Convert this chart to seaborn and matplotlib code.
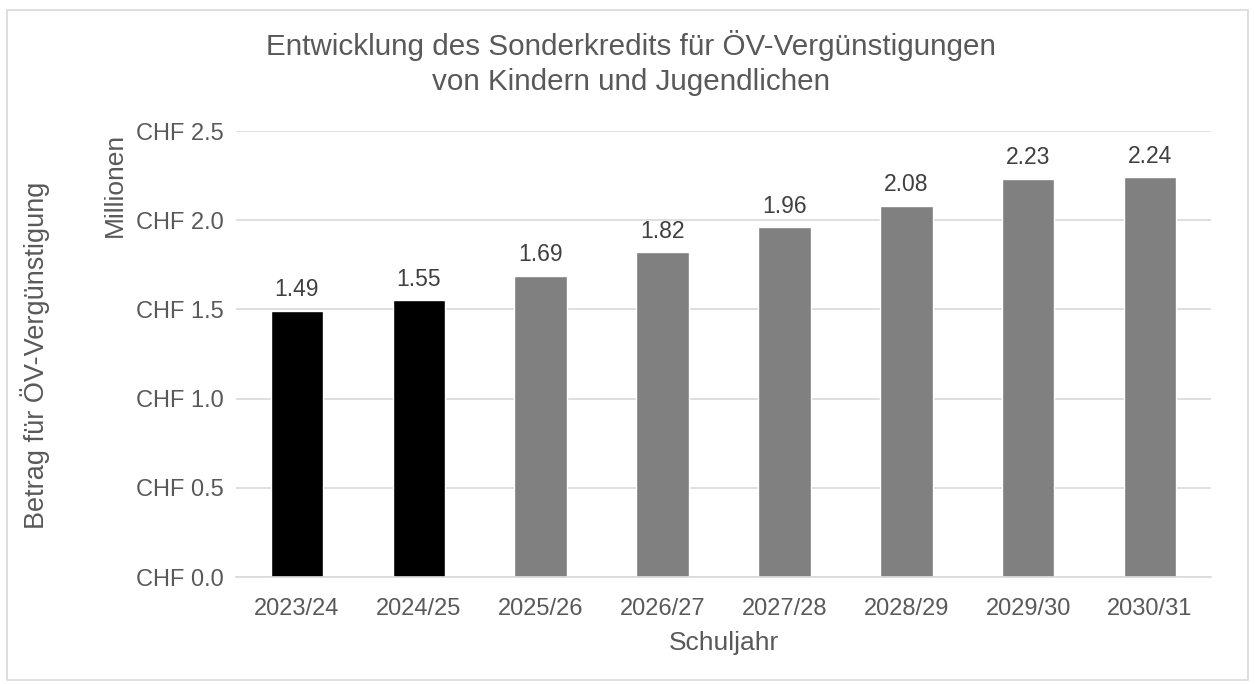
import numpy as np
import pandas as pd
import matplotlib
matplotlib.use("Agg")
import matplotlib.pyplot as plt
import seaborn as sns
from matplotlib.patches import Rectangle

# Daten
schuljahre = ["2023/24", "2024/25", "2025/26", "2026/27", "2027/28", "2028/29", "2029/30", "2030/31"]
betrag_mio = [1.49, 1.55, 1.69, 1.82, 1.96, 2.08, 2.23, 2.24]
farben = ["#000000", "#000000", "#808080", "#808080", "#808080", "#808080", "#808080", "#808080"]
yticks = [0.0, 0.5, 1.0, 1.5, 2.0, 2.5]

df = pd.DataFrame({"Schuljahr": schuljahre, "Betrag": betrag_mio})

sns.set_theme(style="white")
plt.rcParams["font.family"] = ["Liberation Sans", "DejaVu Sans"]

fig = plt.figure(figsize=(12.55, 6.84), dpi=100)
ax = fig.add_axes([236 / 1255, 1 - 577 / 684, (1211 - 236) / 1255, (577 - 131) / 684])

sns.barplot(data=df, x="Schuljahr", y="Betrag", hue="Schuljahr", palette=farben,
            legend=False, width=0.43, saturation=1, ax=ax)

for i, v in enumerate(betrag_mio):
    ax.text(i, v + 0.055, f"{v:.2f}", ha="center", va="bottom", fontsize=16.5, color="#404040")

ax.set_ylim(0, 2.5)
ax.set_yticks(yticks)
ax.set_yticklabels([f"CHF {t:.1f}" for t in yticks])
ax.yaxis.grid(True, color="#D9D9D9", linewidth=1.2)
ax.set_axisbelow(True)
for s in ["top", "right", "left"]:
    ax.spines[s].set_visible(False)
ax.spines["bottom"].set_color("#D9D9D9")
ax.spines["bottom"].set_linewidth(1.2)
ax.tick_params(axis="both", length=0, labelsize=17, colors="#595959")
ax.tick_params(axis="y", pad=9)
ax.tick_params(axis="x", pad=15)

ax.set_xlabel("Schuljahr", fontsize=19, color="#595959", labelpad=8)
ax.set_ylabel("")
fig.text(35 / 1255, 1 - 355 / 684, "Betrag für ÖV-Vergünstigung", rotation=90,
         ha="center", va="center", fontsize=19.5, color="#595959")
fig.text(115 / 1255, 1 - 185 / 684, "Millionen", rotation=90,
         ha="center", va="center", fontsize=19, color="#595959")

fig.text(631 / 1255, 1 - 63 / 684, "Entwicklung des Sonderkredits für ÖV-Vergünstigungen\nvon Kindern und Jugendlichen",
         ha="center", va="center", fontsize=21.3, color="#595959", linespacing=1.3)

# Rahmen
fig.patches.append(Rectangle((7 / 1255, 1 - 680 / 684), 1241 / 1255, 670 / 684,
                             transform=fig.transFigure, fill=False,
                             edgecolor="#D9D9D9", linewidth=1.2))

fig.savefig("out.png", dpi=100, facecolor="white")
